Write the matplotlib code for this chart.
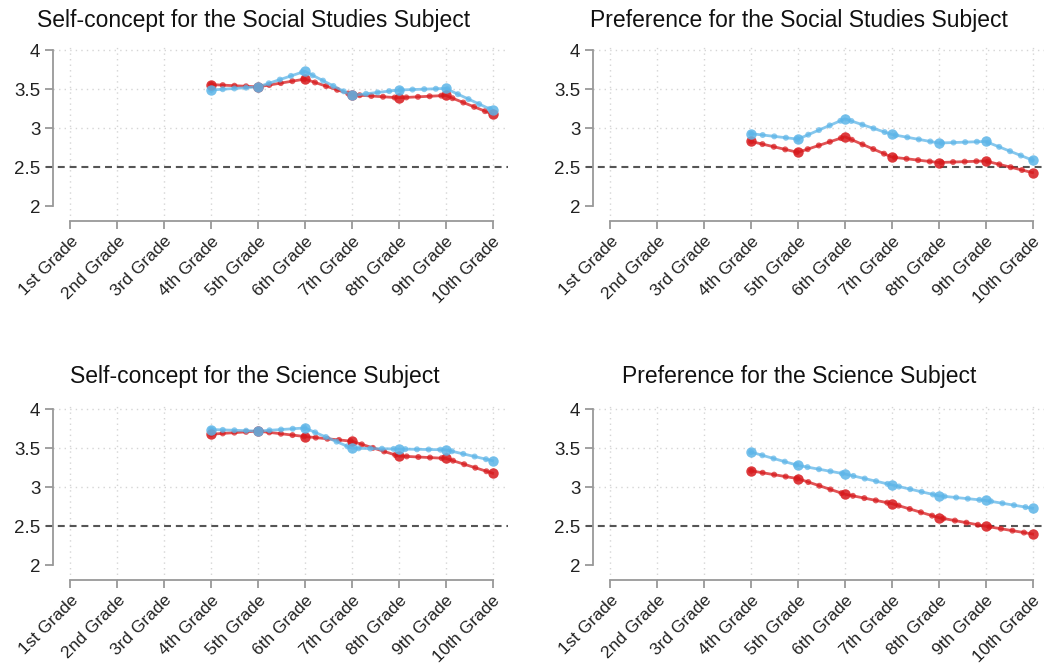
import matplotlib
matplotlib.use("Agg")
import matplotlib.pyplot as plt
import numpy as np

plt.rcParams['font.family'] = ['Liberation Sans', 'DejaVu Sans']
plt.rcParams['lines.scale_dashes'] = False

grade_labels = ['1st Grade', '2nd Grade', '3rd Grade', '4th Grade', '5th Grade',
                '6th Grade', '7th Grade', '8th Grade', '9th Grade', '10th Grade']
grades = [4, 5, 6, 7, 8, 9, 10]

titles = ['Self-concept for the Social Studies Subject',
          'Preference for the Social Studies Subject',
          'Self-concept for the Science Subject',
          'Preference for the Science Subject']

blue_ss_self = [3.49, 3.53, 3.73, 3.42, 3.49, 3.51, 3.23]
red_ss_self = [3.56, 3.53, 3.63, 3.43, 3.39, 3.42, 3.18]
blue_ss_pref = [2.93, 2.86, 3.12, 2.92, 2.81, 2.83, 2.59]
red_ss_pref = [2.83, 2.69, 2.89, 2.63, 2.56, 2.58, 2.43]
blue_sci_self = [3.74, 3.72, 3.76, 3.50, 3.49, 3.48, 3.34]
red_sci_self = [3.68, 3.72, 3.65, 3.59, 3.40, 3.37, 3.18]
blue_sci_pref = [3.45, 3.28, 3.17, 3.03, 2.89, 2.83, 2.73]
red_sci_pref = [3.21, 3.11, 2.91, 2.79, 2.61, 2.50, 2.40]

panels = [(blue_ss_self, red_ss_self), (blue_ss_pref, red_ss_pref),
          (blue_sci_self, red_sci_self), (blue_sci_pref, red_sci_pref)]

BLUE = '#5DB5E8'
RED = '#D7191C'

W, H = 1044, 668
fig = plt.figure(figsize=(W / 100, H / 100), dpi=100)

# axes boxes in pixels: left, top, bottom
boxes = [(53, 44, 221), (593, 44, 221), (53, 403, 580), (593, 403, 580)]
title_pos = [(254, 21), (799, 21), (255, 376), (799, 376)]


def beads(ax, y, color):
    ax.plot(grades, y, color=color, lw=2.0, alpha=0.75, zorder=3)
    ax.plot(grades, y, color=color, lw=4.4, alpha=0.7, zorder=3,
            linestyle=(0, (0.01, 8.4)), dash_capstyle='round')
    ax.plot(grades, y, color=color, lw=0, marker='o', ms=7.5,
            alpha=0.85, zorder=4, markeredgewidth=0)


for i, (blue, red) in enumerate(panels):
    left, top, bottom = boxes[i]
    ax = fig.add_axes([left / W, 1 - bottom / H, 455 / W, (bottom - top) / H])
    ax.set_xlim(0.63, 10.33)
    ax.set_ylim(1.81, 4.08)

    for g in range(1, 11):
        ax.axvline(g, color='#d5d5d5', lw=1.0, ls=(0, (1, 3)), zorder=1)
    for v in [3, 3.5, 4]:
        ax.axhline(v, color='#d5d5d5', lw=1.0, ls=(0, (1, 3)), zorder=1)
    ax.axhline(2.5, xmin=-0.015, color='#555555', lw=1.5, ls=(0, (5, 3.5)),
               zorder=2, clip_on=False)

    beads(ax, red, RED)
    beads(ax, blue, BLUE)

    for s in ['top', 'right']:
        ax.spines[s].set_visible(False)
    ax.spines['left'].set_bounds(2, 4)
    ax.spines['bottom'].set_bounds(1, 10)
    for s in ['left', 'bottom']:
        ax.spines[s].set_color('#999999')
        ax.spines[s].set_linewidth(1.3)

    ax.set_yticks([2, 2.5, 3, 3.5, 4])
    ax.set_yticklabels(['2', '2.5', '3', '3.5', '4'])
    ax.set_xticks(range(1, 11))
    ax.set_xticklabels(grade_labels, rotation=45, ha='right', va='top',
                       rotation_mode='anchor')
    ax.tick_params(axis='y', length=6, width=1.3, color='#999999',
                   labelsize=13.5, labelcolor='#222222', pad=3)
    ax.tick_params(axis='x', length=6, width=1.3, color='#999999',
                   labelsize=12.5, labelcolor='#222222', pad=3)

    tx, ty = title_pos[i]
    fig.text(tx / W, 1 - ty / H, titles[i], ha='center', va='center',
             fontsize=16.5, color='#111111')

fig.savefig('out.png', dpi=100)
